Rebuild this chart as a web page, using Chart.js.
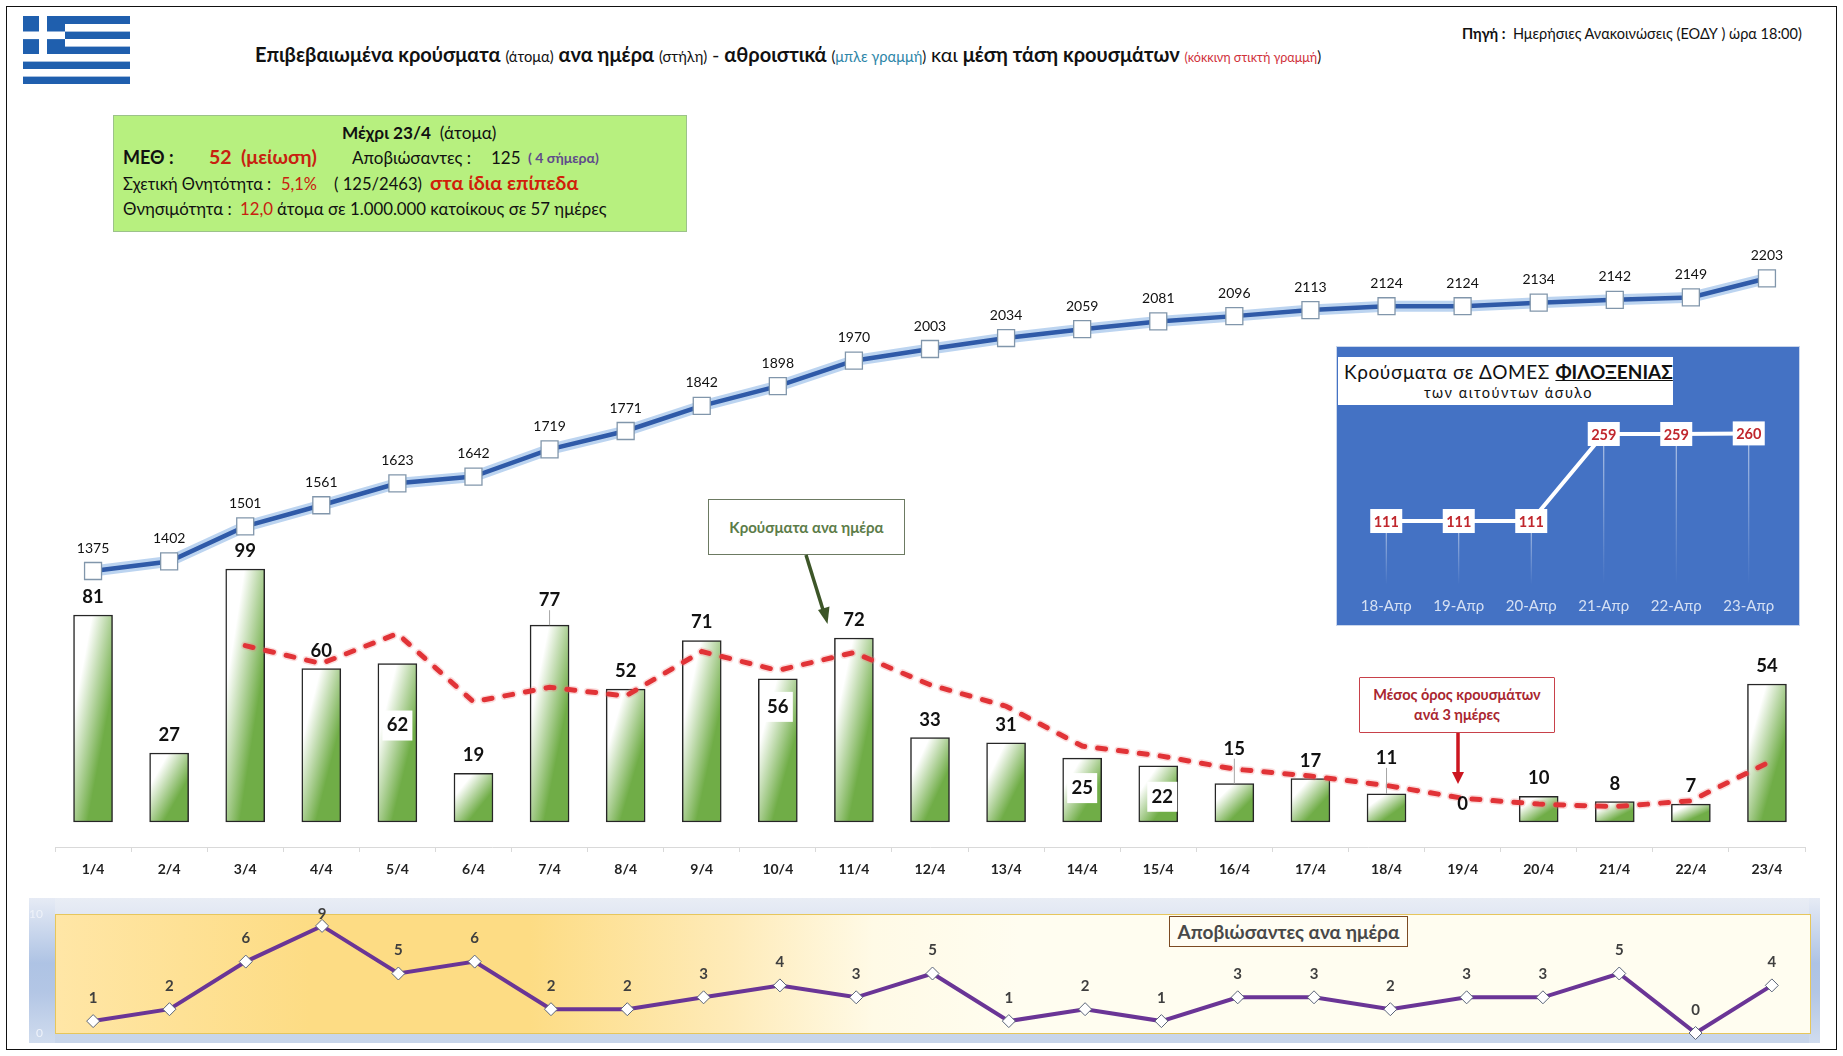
<!DOCTYPE html>
<html lang="el">
<head>
  <meta charset="UTF-8" />
  <title>Κρούσματα ανα ημέρα</title>
  <script src="https://cdn.jsdelivr.net/npm/chart.js"></script>
  <style>
    html, body { margin: 0; padding: 0; background: #fff; }
    body { width: 1843px; height: 1056px; position: relative; overflow: hidden; font-family: Lato, "Noto Sans", sans-serif; color: #111; }
    .abs { position: absolute; white-space: nowrap; line-height: 1; }
    canvas { position: absolute; }
    #frame { position: absolute; left: 6px; top: 6px; width: 1829px; height: 1042px; border: 1.5px solid #111; }
    #info { position: absolute; left: 113px; top: 115px; width: 572px; height: 115px; background: #b7f07f; border: 1px solid #9cc28a; }
    #inset { position: absolute; left: 1337px; top: 347px; width: 462px; height: 278px; background: #4472c4; box-shadow: 0 0 0 1px #c9d6ec; }
    #insetTitle { position: absolute; left: 1338px; top: 357px; width: 335px; height: 48px; background: #fff; }
    #deathsOuter { position: absolute; left: 29px; top: 898px; width: 1791px; height: 145px;
      background: linear-gradient(to bottom, #e6ebf5, #aec3e4 45%, #b3c6e5 65%, #d0dcee) left / 26px 100% no-repeat,
        linear-gradient(to bottom, #e6ebf5, #aec3e4 45%, #b3c6e5 65%, #d0dcee) right / 11px 100% no-repeat,
        linear-gradient(to bottom, #e9edf5, #dfe6f2 15%, #c9d6ea 85%, #c7d5ea); }
    #deathsInner { position: absolute; left: 55px; top: 914px; width: 1754px; height: 118px; border: 1px solid #e6c65c;
      background: linear-gradient(to right, #ffe6a6 0, #fddc84 14.5%, #fddc84 27%, #feebb9 38.6%, #fffae6 46.6%, #fffdf0 55%, #fffdf0 100%); }
    .callout { position: absolute; text-align: center; font-weight: 700; box-sizing: border-box; background: #fff; }
    svg { position: absolute; left: 0; top: 0; }
  </style>
</head>
<body>
  <div id="frame"></div>

  <!-- flag -->
  <svg width="1843" height="1056" style="z-index:0">
    <rect x="23" y="16" width="107" height="68" fill="#1f5fae" />
    <rect x="65" y="24" width="65" height="7.6" fill="#fff" />
    <rect x="65" y="39" width="65" height="7.6" fill="#fff" />
    <rect x="23" y="54" width="107" height="7.6" fill="#fff" />
    <rect x="23" y="69" width="107" height="7.6" fill="#fff" />
    <rect x="23" y="31.5" width="42" height="7.6" fill="#fff" />
    <rect x="39" y="16" width="8" height="38" fill="#fff" />
  </svg>

  <!-- title -->
  <div class="abs" id="title" style="left:255px;top:44px;font-size:20px;font-weight:700">Επιβεβαιωμένα κρούσματα <span style="font-size:14.7px;font-weight:400">(άτομα)</span> ανα ημέρα <span style="font-size:14.7px;font-weight:400">(στήλη)</span> <span style="font-weight:400">-</span> αθροιστικά <span style="font-size:14.7px;font-weight:400">(<span style="color:#2e86a8">μπλε γραμμή</span>)</span> <span style="font-weight:400">και</span> μέση τάση κρουσμάτων <span style="font-size:12.6px;font-weight:400;color:#d0313b">(κόκκινη στικτή γραμμή</span><span style="font-size:14.7px;font-weight:400">)</span></div>
  <div class="abs" style="left:1462px;top:27px;font-size:14.5px"><b>Πηγή :</b> &nbsp;Ημερήσιες Ανακοινώσεις (ΕΟΔΥ ) ώρα 18:00)</div>

  <!-- info box -->
  <div id="info"></div>
  <div class="abs" style="left:342px;top:124px;font-size:17.2px"><b>Μέχρι 23/4</b> &nbsp;(άτομα)</div>
  <div class="abs" style="left:123px;top:148px;font-size:18px;font-weight:700">ΜΕΘ :</div>
  <div class="abs" style="left:209px;top:147px;font-size:19.5px;font-weight:700;color:#c8210f">52 &nbsp;(μείωση)</div>
  <div class="abs" style="left:352px;top:149px;font-size:17px">Αποβιώσαντες :</div>
  <div class="abs" style="left:491px;top:149px;font-size:17px">125</div>
  <div class="abs" style="left:528px;top:151px;font-size:14px;font-weight:700;color:#5f4b8b">( 4 σήμερα)</div>
  <div class="abs" style="left:123px;top:176px;font-size:16.4px">Σχετική Θνητότητα :</div>
  <div class="abs" style="left:281px;top:176px;font-size:16.4px;color:#c8210f">5,1%</div>
  <div class="abs" style="left:334px;top:176px;font-size:16.6px">( 125/2463)</div>
  <div class="abs" style="left:430px;top:173px;font-size:19.8px;font-weight:700;color:#d01f0a">στα ίδια επίπεδα</div>
  <div class="abs" style="left:123px;top:201px;font-size:16.8px">Θνησιμότητα :</div>
  <div class="abs" style="left:240px;top:201px;font-size:16.8px;color:#c8210f">12,0</div>
  <div class="abs" style="left:277px;top:201px;font-size:16.8px">άτομα σε 1.000.000 κατοίκους σε 57 ημέρες</div>

  <canvas id="mainChart" width="1843" height="1056" style="left:0;top:0"></canvas>

  <!-- inset -->
  <div id="inset"></div>
  <div id="insetTitle"></div>
  <div class="abs" style="left:1344px;top:362px;font-size:19px;letter-spacing:0.6px">Κρούσματα σε ΔΟΜΕΣ <b style="text-decoration:underline;letter-spacing:0">ΦΙΛΟΞΕΝΙΑΣ</b></div>
  <div class="abs" style="left:1424px;top:386px;font-size:14.5px;letter-spacing:1.5px">των αιτούντων άσυλο</div>
  <canvas id="insetChart" width="462" height="278" style="left:1337px;top:347px"></canvas>

  <!-- callouts -->
  <div class="callout" style="left:708px;top:499px;width:197px;height:56px;line-height:54px;border:1.5px solid #6c7a62;color:#5c7c48;font-size:15px">Κρούσματα ανα ημέρα</div>
  <div class="callout" style="left:1359px;top:677px;width:196px;height:56px;padding-top:7px;line-height:20px;border:1.5px solid #c8414a;color:#a9262f;font-size:14.5px;border-radius:1px">Μέσος όρος κρουσμάτων<br>ανά 3 ημέρες</div>
  <svg width="1843" height="1056">
    <line x1="806" y1="555" x2="824" y2="613" stroke="#3d5628" stroke-width="3.5" />
    <polygon points="827.5,624 818,610 829.5,606.5" fill="#3d5628" />
    <line x1="1458" y1="733" x2="1458" y2="773" stroke="#cc1620" stroke-width="3.5" />
    <polygon points="1452,772 1464,772 1458,784" fill="#cc1620" />
  </svg>

  <!-- deaths strip -->
  <div id="deathsOuter"></div>
  <div id="deathsInner"></div>
  <canvas id="deathsChart" width="1843" height="176" style="left:0;top:880px"></canvas>
  <div class="callout" style="left:1169px;top:916px;width:239px;height:31px;line-height:29px;border:1.5px solid #7b4a22;color:#484848;font-size:19px;background:#fffdf3">Αποβιώσαντες ανα ημέρα</div>

  <script>
    const days = ['1/4','2/4','3/4','4/4','5/4','6/4','7/4','8/4','9/4','10/4','11/4','12/4','13/4','14/4','15/4','16/4','17/4','18/4','19/4','20/4','21/4','22/4','23/4'];
    const dailyCases = [81,27,99,60,62,19,77,52,71,56,72,33,31,25,22,15,17,11,0,10,8,7,54];
    const cumulativeCases = [1375,1402,1501,1561,1623,1642,1719,1771,1842,1898,1970,2003,2034,2059,2081,2096,2113,2124,2124,2134,2142,2149,2203];
    const avgCases = [null,null,69,62,73.7,47,52.7,49.3,66.7,59.3,66.3,53.7,45.3,29.7,26,20.7,18,14.3,9.3,7,6,8.3,23];
    const deaths = [1,2,6,9,5,6,2,2,3,4,3,5,1,2,1,3,3,2,3,3,5,0,4];
    const insetDays = ['18-Απρ','19-Απρ','20-Απρ','21-Απρ','22-Απρ','23-Απρ'];
    const insetCases = [111,111,111,259,259,260];

    // labels that don't sit right above their bar
    const insideLabels = { '5/4': { dy: 62 }, '10/4': { dy: 28 }, '14/4': { dy: 30 }, '15/4': { dy: 31, dx: 4 } };
    const raisedLabels = { '7/4': 25, '16/4': 35, '18/4': 36 };

    Chart.defaults.font.family = 'Lato, "Noto Sans", sans-serif';
    Chart.defaults.animation = false;
    Chart.defaults.responsive = false;
    Chart.defaults.plugins.legend.display = false;
    Chart.defaults.plugins.tooltip.enabled = false;

    function barGradient(c) {
      const chart = c.chart;
      if (c.type !== 'data' || !chart.chartArea) return '#70ad47';
      if (dailyCases[c.dataIndex] === 0) return 'transparent';
      const x = chart.scales.x.getPixelForValue(c.dataIndex);
      const yt = chart.scales.y.getPixelForValue(dailyCases[c.dataIndex]);
      const yb = chart.scales.y.getPixelForValue(0);
      const w = 39, h = Math.max(yb - yt, 1), cy = (yt + yb) / 2;
      const L = Math.sqrt(w * w + h * h), t = w * h / L;
      const g = chart.ctx.createLinearGradient(x - h / L * t, cy - w / L * t, x + h / L * t, cy + w / L * t);
      g.addColorStop(0, '#ffffff');
      g.addColorStop(0.24, '#ffffff');
      g.addColorStop(0.68, '#70ad47');
      g.addColorStop(1, '#70ad47');
      return g;
    }

    const mainLabels = {
      id: 'mainLabels',
      afterDatasetsDraw(chart) {
        const { ctx, scales } = chart;
        ctx.save();
        ctx.textAlign = 'center';
        ctx.textBaseline = 'middle';
        cumulativeCases.forEach((v, i) => {
          ctx.font = '14px Lato, "Noto Sans", sans-serif';
          ctx.fillStyle = '#111';
          ctx.fillText(v, scales.x.getPixelForValue(i), scales.yCum.getPixelForValue(v) - 23);
        });
        dailyCases.forEach((v, i) => {
          const x = scales.x.getPixelForValue(i), top = scales.y.getPixelForValue(v);
          const inside = insideLabels[days[i]];
          const raised = raisedLabels[days[i]];
          let lx = x, ly = top - 18;
          if (inside) {
            lx = x + (inside.dx || 0);
            ly = top + inside.dy;
            ctx.fillStyle = '#fff';
            ctx.fillRect(lx - 15, ly - 15, 30, 30);
          }
          if (raised) {
            ly = top - raised;
            ctx.strokeStyle = '#a6a6a6';
            ctx.lineWidth = 1;
            ctx.beginPath();
            ctx.moveTo(x, ly + 10);
            ctx.lineTo(x, top);
            ctx.stroke();
          }
          ctx.font = 'bold 18.5px Lato, "Noto Sans", sans-serif';
          ctx.fillStyle = '#111';
          ctx.fillText(v, lx, ly);
        });
        ctx.restore();
      }
    };

    new Chart(document.getElementById('mainChart'), {
      type: 'bar',
      data: {
        labels: days,
        datasets: [
          { type: 'line', data: cumulativeCases, yAxisID: 'yCum', order: 1, borderColor: 'rgba(165,198,235,.75)', borderWidth: 11, pointRadius: 0 },
          { type: 'line', data: cumulativeCases, yAxisID: 'yCum', order: 0, borderColor: '#2f5aa8', borderWidth: 4.5, pointStyle: 'rect', pointRadius: 12, pointBackgroundColor: '#fff', pointBorderColor: '#8196ab', pointBorderWidth: 1.3 },
          { type: 'line', data: avgCases, yAxisID: 'y', order: 2, borderColor: 'rgba(240,120,120,.25)', borderWidth: 8, borderDash: [8, 13], borderCapStyle: 'round', pointRadius: 0 },
          { type: 'line', data: avgCases, yAxisID: 'y', order: 2, borderColor: '#dc1d22', borderWidth: 5, borderDash: [8, 13], borderCapStyle: 'round', pointRadius: 0 },
          { data: dailyCases, yAxisID: 'y', order: 3, barThickness: 39, backgroundColor: barGradient, borderColor: '#262626', borderWidth: c => dailyCases[c.dataIndex] === 0 ? 0 : 1.5, borderSkipped: false }
        ]
      },
      options: {
        layout: { padding: { left: 55, right: 38, top: 200, bottom: 169 } },
        scales: {
          x: {
            afterFit: s => { s.height = 40; },
            grid: { offset: true, drawOnChartArea: false, tickLength: 5, color: '#d9d9d9' },
            border: { color: '#d9d9d9' },
            ticks: { color: '#222', padding: 9, font: { size: 14, weight: 'bold' }, maxRotation: 0, autoSkip: false }
          },
          y: { display: false, min: -9.78, max: 243.35 },
          yCum: { display: false, min: 594.2, max: 2424.5 }
        }
      },
      plugins: [mainLabels]
    });

    const insetBoxes = {
      id: 'insetBoxes',
      beforeDatasetsDraw(chart) {
        const { ctx, scales } = chart;
        ctx.save();
        insetCases.forEach((v, i) => {
          const x = scales.x.getPixelForValue(i), y = scales.y.getPixelForValue(v);
          const g = ctx.createLinearGradient(0, y, 0, 238);
          g.addColorStop(0, 'rgba(255,255,255,.75)');
          g.addColorStop(1, 'rgba(255,255,255,0)');
          ctx.strokeStyle = g;
          ctx.lineWidth = 1;
          ctx.beginPath();
          ctx.moveTo(x, y);
          ctx.lineTo(x, 238);
          ctx.stroke();
        });
        ctx.restore();
      },
      afterDatasetsDraw(chart) {
        const { ctx, scales } = chart;
        ctx.save();
        ctx.textAlign = 'center';
        ctx.textBaseline = 'middle';
        ctx.font = 'bold 14.5px Lato, "Noto Sans", sans-serif';
        insetCases.forEach((v, i) => {
          const x = scales.x.getPixelForValue(i), y = scales.y.getPixelForValue(v);
          ctx.fillStyle = '#fff';
          ctx.fillRect(x - 16, y - 12, 32, 24);
          ctx.fillStyle = '#c0272d';
          ctx.fillText(v, x, y + 1);
        });
        ctx.restore();
      }
    };

    new Chart(document.getElementById('insetChart'), {
      type: 'line',
      data: {
        labels: insetDays,
        datasets: [{ data: insetCases, borderColor: '#fff', borderWidth: 4, pointRadius: 0 }]
      },
      options: {
        layout: { padding: { left: 13, right: 14, top: 53, bottom: 0 } },
        scales: {
          x: {
            offset: true,
            afterFit: s => { s.height = 35; },
            grid: { display: false, drawTicks: false },
            border: { display: false },
            ticks: { color: '#d5e0f3', padding: 7, font: { size: 15 }, maxRotation: 0, autoSkip: false }
          },
          y: { display: false, min: -6.3, max: 316.8 }
        }
      },
      plugins: [insetBoxes]
    });

    const deathLabels = {
      id: 'deathLabels',
      afterDatasetsDraw(chart) {
        const { ctx, scales } = chart;
        ctx.save();
        ctx.textAlign = 'center';
        ctx.textBaseline = 'middle';
        ctx.font = 'bold 15px Lato, "Noto Sans", sans-serif';
        ctx.fillStyle = '#3f3f3f';
        deaths.forEach((v, i) => {
          const gap = v === 9 ? 12 : 23;
          ctx.fillText(v, scales.x.getPixelForValue(i), scales.y.getPixelForValue(v) - gap);
        });
        ctx.restore();
      }
    };

    new Chart(document.getElementById('deathsChart'), {
      type: 'line',
      data: {
        labels: days,
        datasets: [{ data: deaths, clip: false, borderColor: '#6a3596', borderWidth: 4, pointStyle: 'rectRot', pointRadius: 6.5, pointBackgroundColor: '#fff', pointBorderColor: '#5a6478', pointBorderWidth: 1 }]
      },
      options: {
        layout: { padding: { left: 28, right: 33, top: 34, bottom: 23 } },
        scales: {
          x: { display: false, offset: true },
          y: {
            min: 0, max: 10,
            afterFit: s => { s.width = 27; },
            grid: { display: false },
            border: { display: false },
            ticks: { stepSize: 10, color: '#eef2f9', padding: 4, font: { size: 12 } }
          }
        }
      },
      plugins: [deathLabels]
    });
  </script>
</body>
</html>
